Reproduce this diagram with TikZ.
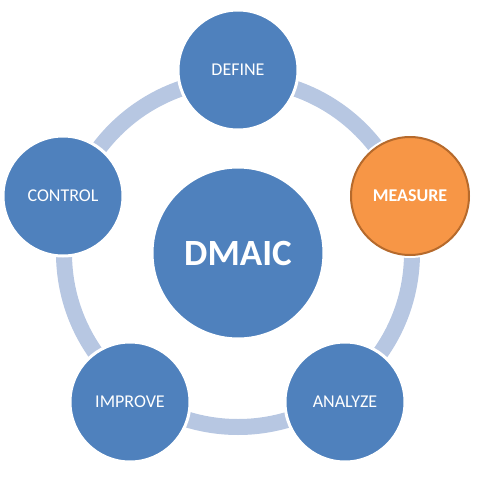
\documentclass[tikz,border=0pt]{standalone}
\usepackage{fontspec}
\setmainfont{Carlito}
\definecolor{dblue}{HTML}{4F81BD}
\definecolor{ringc}{HTML}{B7C7E2}
\definecolor{dorange}{HTML}{F79646}
\definecolor{oborder}{HTML}{B66A2C}
\begin{document}
\begin{tikzpicture}[x=1pt,y=-1pt,
  stage/.style={circle, fill=dblue, draw=white, line width=3pt, minimum size=120pt, inner sep=0pt, text=white, font=\fontsize{18}{20}\selectfont},
  hub/.style={circle, fill=dblue, draw=white, line width=3pt, minimum size=172pt, inner sep=0pt, text=white, font=\fontsize{37}{40}\selectfont\bfseries},
  active/.style={circle, fill=dorange, draw=oborder, line width=2pt, minimum size=118pt, inner sep=0pt, text=white, font=\fontsize{18}{20}\selectfont\bfseries}]
\useasboundingbox (0,0) rectangle (480,480);
\coordinate (c) at (238,253);
\draw[ringc, line width=16pt] (c) circle[radius=174];
\node[hub] (dmaic) at (c) {DMAIC};
\node[stage] (define) at (238,70) {DEFINE};
\fill[white] (410,196) circle[radius=62];
\node[active] (measure) at (410,196) {MEASURE};
\node[stage] (analyze) at (345,402) {ANALYZE};
\node[stage] (improve) at (130,402) {IMPROVE};
\node[stage] (control) at (63,196) {CONTROL};
\end{tikzpicture}
\end{document}
